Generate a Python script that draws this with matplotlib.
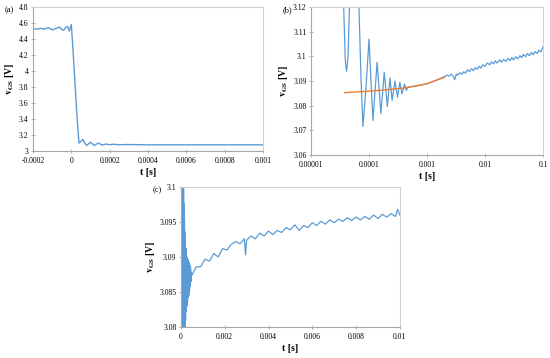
import numpy as np
import matplotlib
matplotlib.use("Agg")
import matplotlib.pyplot as plt
from matplotlib.ticker import FormatStrFormatter, NullLocator

plt.rcParams['font.family'] = ['Liberation Serif', 'DejaVu Serif']
plt.rcParams['mathtext.fontset'] = 'stix'

BLUE = '#5b9bd5'
ORANGE = '#ed7d31'
GRID = '#a6a6a6'

# ---- panel (a): full transient ----
ta = [-0.0002, -0.00018, -0.00016, -0.00014, -0.00012, -0.0001, -0.00008, -0.00006,
      -0.00005, -0.00004, -0.00003, -0.00002, -0.00001, 0.0, 0.00001, 0.00002,
      0.00003, 0.00004, 0.00005, 0.00006, 0.00007, 0.00008, 0.00009, 0.0001,
      0.00011, 0.00012, 0.00013, 0.00014, 0.00015, 0.00016, 0.00018, 0.0002,
      0.00022, 0.00025, 0.0003, 0.0004, 0.0006, 0.0008, 0.001]
va = [4.53, 4.525, 4.535, 4.525, 4.545, 4.515, 4.535, 4.55,
      4.52, 4.51, 4.545, 4.56, 4.50, 4.585, 4.22, 3.82,
      3.42, 3.10, 3.12, 3.145, 3.10, 3.07, 3.09, 3.11,
      3.09, 3.07, 3.085, 3.10, 3.09, 3.075, 3.088, 3.08,
      3.085, 3.079, 3.082, 3.078, 3.078, 3.078, 3.078]

# ---- panel (b): log time, measured + fit ----
tb = [3.3e-5, 3.66e-5, 3.9e-5, 4.1e-5, 4.35e-5, 4.6e-5, 5.5e-5, 6.7e-5, 7.3e-5,
      7.86e-5, 8.9e-5, 1e-4, 1.08e-4, 1.17e-4, 1.27e-4, 1.38e-4, 1.49e-4, 1.6e-4,
      1.71e-4, 1.83e-4, 1.95e-4, 2.07e-4, 2.18e-4, 2.3e-4, 2.4e-4, 2.5e-4, 2.65e-4,
      2.8e-4, 2.95e-4, 3.1e-4, 3.25e-4, 3.4e-4, 3.55e-4, 3.7e-4, 3.9e-4, 4.1e-4,
      4.25e-4, 4.4e-4, 4.55e-4, 4.7e-4, 7e-4, 1e-3, 1.5e-3,
      0.002, 0.0022, 0.0024, 0.0026, 0.0028, 0.003, 0.0032, 0.0034, 0.0037, 0.004,
      0.0043, 0.0046, 0.005, 0.0054, 0.0058, 0.0063, 0.0068, 0.0073, 0.0079, 0.0085,
      0.0092, 0.01, 0.011, 0.012, 0.013, 0.014, 0.015, 0.016, 0.018, 0.019,
      0.021, 0.023, 0.025, 0.027, 0.029, 0.031, 0.034, 0.037, 0.04, 0.043,
      0.046, 0.05, 0.054, 0.058, 0.063, 0.068, 0.073, 0.079, 0.085, 0.092, 0.1]
vb = [3.30, 3.12, 3.098, 3.094, 3.100, 3.12, 3.14, 3.12, 3.090,
      3.0716, 3.088, 3.107, 3.090, 3.074, 3.086, 3.0976, 3.087, 3.0768,
      3.085, 3.0936, 3.0865, 3.0797, 3.0855, 3.0913, 3.0868, 3.0822, 3.0860,
      3.0900, 3.0868, 3.0835, 3.0865, 3.0895, 3.0872, 3.0848, 3.0868, 3.0888,
      3.0875, 3.0862, 3.0870, 3.0875, 3.0882, 3.0889, 3.0905,
      3.0918, 3.0924, 3.0920, 3.0928, 3.0922, 3.0906, 3.0929, 3.0924, 3.0934, 3.0928,
      3.0938, 3.0932, 3.0946, 3.0938, 3.0950, 3.0943, 3.0955, 3.0948, 3.0960, 3.0953,
      3.0966, 3.0960, 3.0974, 3.0966, 3.0978, 3.0970, 3.0982, 3.0973, 3.0986, 3.0977,
      3.0988, 3.0980, 3.0992, 3.0983, 3.0996, 3.0986, 3.0999, 3.0990, 3.1003, 3.0995,
      3.1008, 3.0999, 3.1012, 3.1003, 3.1016, 3.1007, 3.1020, 3.1012, 3.1026, 3.1018, 3.1040]
tb_fit = [3.8e-5, 6e-5, 1e-4, 2e-4, 4e-4, 7e-4, 1e-3, 1.5e-3, 2e-3]
vb_fit = [3.0853, 3.0856, 3.0859, 3.0865, 3.0872, 3.0882, 3.0889, 3.0905, 3.0915]

# ---- panel (c): linear time up to 10 ms ----
tc = [0.0, 0.00001, 0.00002, 0.00003, 0.00004, 0.00005, 0.00006, 0.00007, 0.00008,
      0.00009, 0.0001, 0.00011, 0.00012, 0.00013, 0.00014, 0.00015, 0.00016, 0.00017,
      0.00018, 0.00019, 0.0002, 0.00021, 0.00023, 0.00024, 0.00025, 0.00027, 0.00028,
      0.0003, 0.00031, 0.00033, 0.00034, 0.00036, 0.00037, 0.00039, 0.00041, 0.00043,
      0.00044, 0.00046, 0.00047,
      0.0005, 0.0007, 0.0009, 0.0011, 0.0013, 0.0015, 0.0017,
      0.0019, 0.0021, 0.0023, 0.0025, 0.0027, 0.0029, 0.00295, 0.003, 0.0032, 0.0034,
      0.0036, 0.0038, 0.004, 0.0042, 0.0044, 0.0046, 0.0048, 0.005, 0.0052, 0.0054,
      0.0056, 0.0058, 0.006, 0.0062, 0.0064, 0.0066, 0.0068, 0.007, 0.0072, 0.0074,
      0.0076, 0.0078, 0.008, 0.0082, 0.0084, 0.0086, 0.0088, 0.009, 0.0092, 0.0094,
      0.0096, 0.0098, 0.0099, 0.01]
vc = [3.20, 3.06, 3.13, 3.065, 3.12, 3.07, 3.11, 3.072, 3.107,
      3.074, 3.104, 3.076, 3.100, 3.077, 3.0976, 3.0785, 3.0955, 3.0790,
      3.0936, 3.0797, 3.0925, 3.0810, 3.0913, 3.0822, 3.0905, 3.0830, 3.0900,
      3.0835, 3.0897, 3.0842, 3.0895, 3.0845, 3.0892, 3.0850, 3.0888, 3.0858,
      3.0884, 3.0865, 3.0878,
      3.0874, 3.0886, 3.0886, 3.0897, 3.0894, 3.0905, 3.0900,
      3.0912, 3.0910, 3.0918, 3.0922, 3.0919, 3.0926, 3.0903, 3.0924, 3.0930, 3.0926,
      3.0934, 3.0930, 3.0937, 3.0932, 3.0938, 3.0935, 3.0942, 3.0939, 3.0946, 3.0938,
      3.0945, 3.0942, 3.0949, 3.0945, 3.0951, 3.0947, 3.0953, 3.0949, 3.0954, 3.0951,
      3.0956, 3.0952, 3.0957, 3.0953, 3.0958, 3.0954, 3.0960, 3.0955, 3.0961, 3.0957,
      3.0962, 3.0958, 3.0968, 3.0960]

xticks_b = [1e-5, 1e-4, 1e-3, 1e-2, 1e-1]
xlabels_b = ['0.00001', '0.0001', '0.001', '0.01', '0.1']

fig = plt.figure(figsize=(5.5, 3.58), dpi=100)
ax_a = fig.add_axes([0.06, 0.578, 0.418, 0.402])
ax_b = fig.add_axes([0.5655, 0.567, 0.4218, 0.413])
ax_c = fig.add_axes([0.329, 0.0866, 0.398, 0.391])


def style(ax):
    for s in ax.spines.values():
        s.set_color('#d0d0d0')
        s.set_linewidth(0.8)
    ax.spines['left'].set_color(GRID)
    ax.spines['bottom'].set_color(GRID)
    ax.tick_params(direction='inout', length=2.5, width=0.6, color=GRID,
                   labelsize=5.5)
    ax.tick_params(axis='x', pad=3)
    ax.tick_params(axis='y', pad=2)
    ax.set_xlabel('t [s]', fontsize=7, fontweight='bold', labelpad=2)
    ax.set_ylabel(r'$\mathbf{v_{GS}}$ [V]', fontsize=7, fontweight='bold', labelpad=2)


ax_a.plot(ta, va, color=BLUE, lw=1.0)
ax_a.set_xlim(-0.0002, 0.001)
ax_a.set_ylim(3, 4.8)
ax_a.set_xticks([-0.0002, 0, 0.0002, 0.0004, 0.0006, 0.0008, 0.001])
ax_a.set_yticks([3, 3.2, 3.4, 3.6, 3.8, 4, 4.2, 4.4, 4.6, 4.8])
ax_a.xaxis.set_major_formatter(FormatStrFormatter('%g'))
ax_a.yaxis.set_major_formatter(FormatStrFormatter('%g'))
style(ax_a)

ax_b.plot(tb, vb, color=BLUE, lw=0.9)
ax_b.plot(tb_fit, vb_fit, color=ORANGE, lw=1.0)
ax_b.set_xscale('log')
ax_b.set_xlim(1e-5, 0.1)
ax_b.set_ylim(3.06, 3.12)
ax_b.set_xticks(xticks_b)
ax_b.set_xticklabels(xlabels_b)
ax_b.xaxis.set_minor_locator(NullLocator())
ax_b.set_yticks([3.06, 3.07, 3.08, 3.09, 3.1, 3.11, 3.12])
ax_b.yaxis.set_major_formatter(FormatStrFormatter('%g'))
style(ax_b)

ax_c.plot(tc, vc, color=BLUE, lw=0.9)
ax_c.set_xlim(0, 0.01)
ax_c.set_ylim(3.08, 3.1)
ax_c.set_xticks([0, 0.002, 0.004, 0.006, 0.008, 0.01])
ax_c.set_yticks([3.08, 3.085, 3.09, 3.095, 3.1])
ax_c.xaxis.set_major_formatter(FormatStrFormatter('%g'))
ax_c.yaxis.set_major_formatter(FormatStrFormatter('%g'))
style(ax_c)

fig.text(5 / 550, 1 - 10 / 358, '(a)', fontsize=6, va='center')
fig.text(283 / 550, 1 - 10 / 358, '(b)', fontsize=6, va='center')
fig.text(153 / 550, 1 - 190 / 358, '(c)', fontsize=6, va='center')

fig.savefig('out.png', dpi=100)
